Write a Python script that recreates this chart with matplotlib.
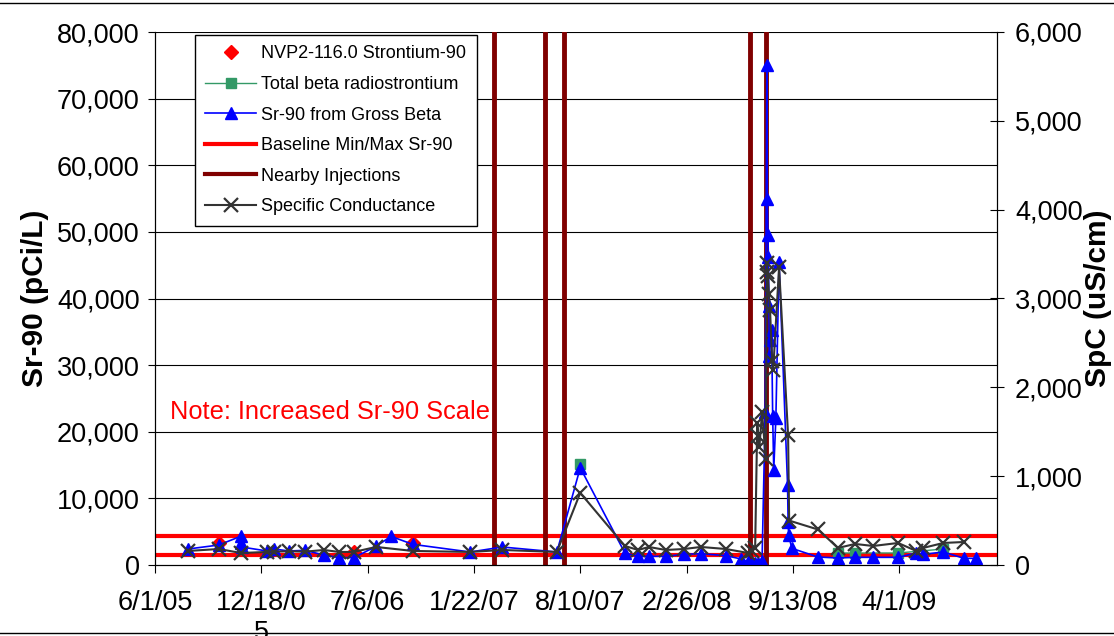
import matplotlib
matplotlib.use("Agg")
import matplotlib.pyplot as plt
from matplotlib.lines import Line2D
import pandas as pd

plt.rcParams['font.family'] = ['Liberation Sans', 'DejaVu Sans']

# Sr-90 from gross beta (pCi/L)
sr_dates = ["2005-08-02", "2005-09-29", "2005-11-09", "2005-11-10", "2005-11-11",
            "2005-12-29", "2006-01-11", "2006-02-08", "2006-03-10", "2006-04-15",
            "2006-05-13", "2006-06-10", "2006-07-22", "2006-08-19", "2006-09-29",
            "2007-01-15", "2007-03-16", "2007-06-27", "2007-08-10", "2007-11-02",
            "2007-11-27", "2007-12-17", "2008-01-18", "2008-02-21", "2008-03-24",
            "2008-05-10", "2008-06-08", "2008-06-21", "2008-06-28", "2008-07-04",
            "2008-07-10", "2008-07-17", "2008-07-23", "2008-07-26", "2008-07-27",
            "2008-07-28", "2008-07-29", "2008-07-30", "2008-07-31", "2008-08-01",
            "2008-08-04", "2008-08-06", "2008-08-08", "2008-08-12", "2008-08-18",
            "2008-09-03", "2008-09-04", "2008-09-05", "2008-09-11", "2008-10-30",
            "2008-12-07", "2009-01-08", "2009-02-11", "2009-03-30", "2009-05-03",
            "2009-05-16", "2009-06-23", "2009-08-01", "2009-08-24"]
sr_vals = [2400, 3000, 4300, 3300, 2700,
           2100, 2400, 2100, 2200, 1500,
           1100, 1100, 2800, 4300, 3100,
           1950, 2700, 1950, 14600, 1800,
           1300, 1300, 1300, 1600, 1700,
           1400, 900, 400, 200, 300,
           250, 600, 23000, 75000, 55000,
           49500, 46300, 38800, 31300, 33800,
           35300, 22300, 14300, 22000, 45500,
           12000, 6500, 4500, 2500, 1200,
           1050, 1150, 1150, 1150, 1800,
           1600, 1950, 1000, 1000]

# Total beta radiostrontium (pCi/L)
tb_dates = ["2007-08-10", "2008-12-07", "2009-01-08", "2009-03-30", "2009-06-23"]
tb_vals = [15200, 1800, 1800, 1800, 2400]

# NVP2-116.0 Strontium-90 (pCi/L)
nvp_dates = ["2005-09-29", "2006-06-10", "2006-09-29"]
nvp_vals = [3300, 1900, 3300]

# Specific conductance (uS/cm)
spc_dates = ["2005-08-02", "2005-09-29", "2005-11-10", "2005-12-29", "2006-01-11",
             "2006-02-08", "2006-03-10", "2006-04-15", "2006-05-13", "2006-06-10",
             "2006-07-22", "2006-09-29", "2007-01-15", "2007-03-16", "2007-06-27",
             "2007-08-10", "2007-11-02", "2007-11-27", "2007-12-17", "2008-01-18",
             "2008-02-21", "2008-03-24", "2008-05-10", "2008-06-21", "2008-06-28",
             "2008-07-04", "2008-07-08", "2008-07-10", "2008-07-12", "2008-07-17",
             "2008-07-24", "2008-07-26", "2008-07-27", "2008-07-28", "2008-07-30",
             "2008-08-01", "2008-08-05", "2008-08-07", "2008-08-18", "2008-09-04",
             "2008-09-06", "2008-10-30", "2008-12-07", "2009-01-08", "2009-02-11",
             "2009-03-30", "2009-05-03", "2009-05-16", "2009-06-23", "2009-08-01"]
spc_vals = [158, 180, 135, 147, 150,
            155, 150, 169, 147, 147,
            203, 158, 147, 169, 147,
            812, 214, 169, 203, 169,
            180, 203, 180, 135, 160,
            190, 1600, 1450, 1330, 1720,
            1190, 3400, 3300, 3250, 3050,
            2875, 2300, 2200, 3350, 1460,
            500, 400, 192, 237, 214,
            248, 158, 192, 248, 259]

baseline = [1470, 4400]
injections = ["2007-03-01", "2007-06-05", "2007-07-11", "2008-06-24", "2008-07-24"]

tick_dates = ["2005-06-01", "2005-12-18", "2006-07-06", "2007-01-22",
              "2007-08-10", "2008-02-26", "2008-09-13", "2009-04-01"]
tick_labels = ["6/1/05", "12/18/0\n5", "7/6/06", "1/22/07",
               "8/10/07", "2/26/08", "9/13/08", "4/1/09"]

fig = plt.figure(figsize=(11.14, 6.36), dpi=100)
ax = fig.add_axes([155 / 1114, 1 - 565 / 636, 842 / 1114, 533 / 636])
ax2 = ax.twinx()

for y in range(10000, 80001, 10000):
    ax.axhline(y, color='black', lw=0.8, zorder=0)

for b in baseline:
    ax.axhline(b, color='#FF0000', lw=3, zorder=1)
for d in injections:
    ax.axvline(pd.Timestamp(d), color='#800000', lw=3.5, zorder=1)

ax.plot(pd.to_datetime(nvp_dates), nvp_vals, ls='none', marker='D', ms=7,
        color='#FF0000', zorder=3)
# the first total beta sample is not joined to the later ones
ax.plot(pd.to_datetime(tb_dates[:1]), tb_vals[:1], color='#339966', lw=1,
        marker='s', ms=7, zorder=3)
ax.plot(pd.to_datetime(tb_dates[1:]), tb_vals[1:], color='#339966', lw=1,
        marker='s', ms=7, zorder=3)
ax.plot(pd.to_datetime(sr_dates), sr_vals, color='#0000FF', lw=1.2, marker='^',
        ms=9, zorder=4)
ax2.plot(pd.to_datetime(spc_dates), spc_vals, color='#333333', lw=1.5, marker='x',
         ms=10, mew=1.6, zorder=5)

ax.set_xlim(pd.Timestamp("2005-06-01"), pd.Timestamp("2005-06-01") + pd.Timedelta(days=1584))
ax.set_ylim(0, 80000)
ax2.set_ylim(0, 6000)
ax.set_xticks(pd.to_datetime(tick_dates))
ax.set_xticklabels(tick_labels)
ax.set_yticks(range(0, 80001, 10000))
ax.set_yticklabels([f"{v:,}" for v in range(0, 80001, 10000)])
ax2.set_yticks(range(0, 6001, 1000))
ax2.set_yticklabels([f"{v:,}" for v in range(0, 6001, 1000)])

ax.tick_params(axis='x', labelsize=19.5, length=6, pad=12, direction='out')
ax.tick_params(axis='y', labelsize=19.5, length=5, pad=6, direction='out')
ax2.tick_params(axis='y', labelsize=19.5, length=10, pad=8, direction='inout')
for a in (ax, ax2):
    a.spines['top'].set_visible(False)

ax.set_ylabel("Sr-90 (pCi/L)", fontsize=21.5, fontweight='bold', labelpad=6)
ax2.set_ylabel("SpC (uS/cm)", fontsize=21.5, fontweight='bold', labelpad=1)

ax.text(0.018, 0.287, "Note: Increased Sr-90 Scale", transform=ax.transAxes,
        color='#FF0000', fontsize=18.3, va='center', ha='left')

handles = [
    Line2D([], [], ls='none', marker='D', ms=7, color='#FF0000'),
    Line2D([], [], color='#339966', lw=1, marker='s', ms=7),
    Line2D([], [], color='#0000FF', lw=1.2, marker='^', ms=9),
    Line2D([], [], color='#FF0000', lw=3),
    Line2D([], [], color='#800000', lw=3),
    Line2D([], [], color='#333333', lw=1.5, marker='x', ms=10, mew=1.6),
]
labels = ["NVP2-116.0 Strontium-90", "Total beta radiostrontium",
          "Sr-90 from Gross Beta", "Baseline Min/Max Sr-90",
          "Nearby Injections", "Specific Conductance"]
leg = ax2.legend(handles, labels, loc='upper left', bbox_to_anchor=(0.047, 0.995),
                 borderaxespad=0, fontsize=13, fancybox=False, framealpha=1,
                 edgecolor='black', handlelength=2.8, labelspacing=0.75,
                 handletextpad=0.3, borderpad=0.6)
leg.get_frame().set_linewidth(1)

fig.add_artist(Line2D([0, 1], [1 - 3 / 636, 1 - 3 / 636], color='black', lw=1,
                      transform=fig.transFigure))
fig.add_artist(Line2D([0, 1], [1 - 633 / 636, 1 - 633 / 636], color='black', lw=1,
                      transform=fig.transFigure))

fig.savefig("out.png", dpi=100)
